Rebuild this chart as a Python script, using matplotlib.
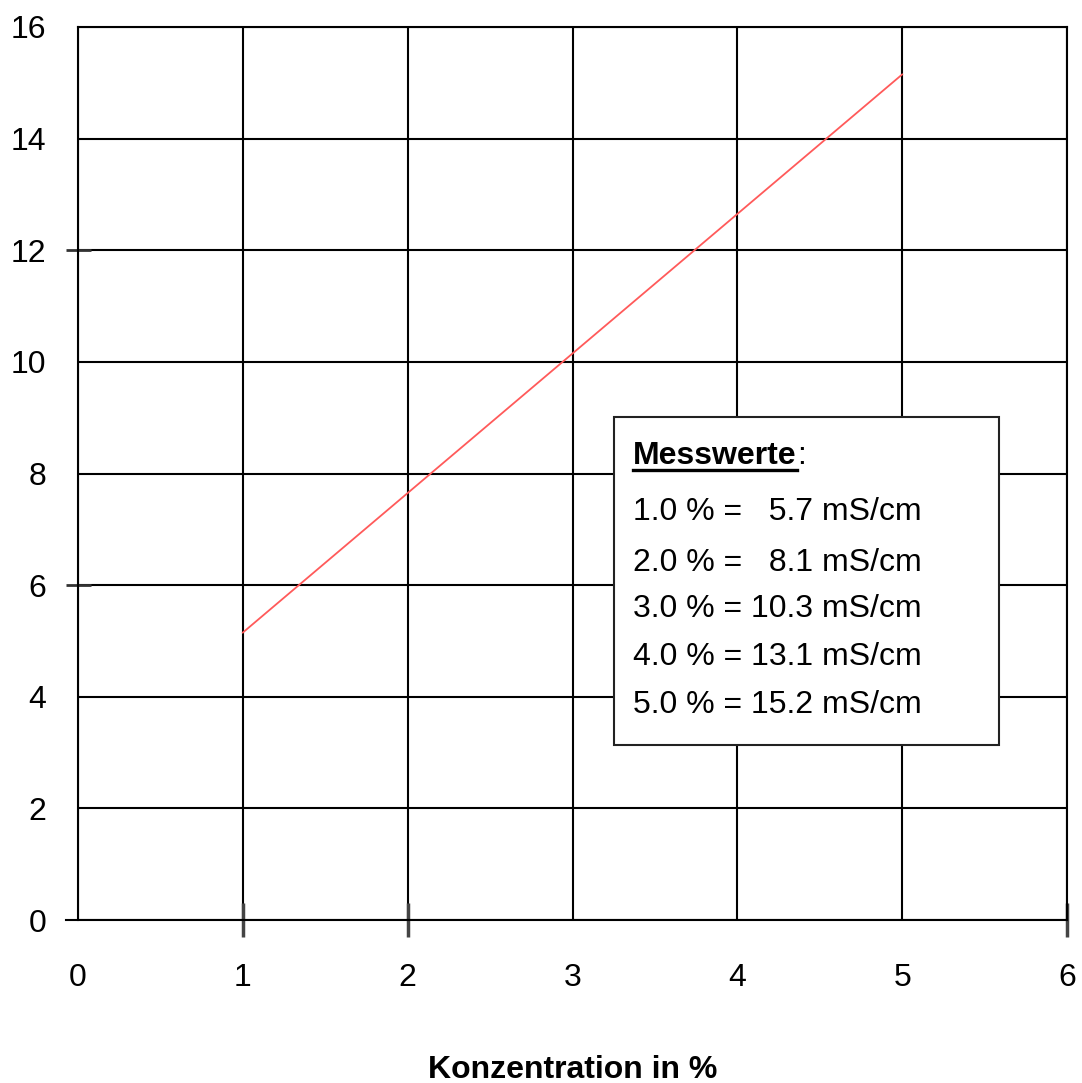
import matplotlib
matplotlib.use("Agg")
import matplotlib.pyplot as plt
from matplotlib.patches import Rectangle
from matplotlib.lines import Line2D

plt.rcParams['font.family'] = ['Liberation Sans', 'DejaVu Sans']

# data
conc = [1.0, 2.0, 3.0, 4.0, 5.0]
values = [5.7, 8.1, 10.3, 13.1, 15.2]
line_x = [1, 5]
line_y = [5.15, 15.15]
xticks = [0, 1, 2, 3, 4, 5, 6]
yticks = [0, 2, 4, 6, 8, 10, 12, 14, 16]
xlabel = "Konzentration in %"
box_title = "Messwerte"

FS = 23

fig = plt.figure(figsize=(10.82, 10.83), dpi=100)
ax = fig.add_axes([78/1082, 1-920/1083, (1067-78)/1082, (920-27)/1083])
ax.set_xlim(0, 6)
ax.set_ylim(0, 16)
ax.set_xticks(xticks)
ax.set_yticks(yticks)
ax.grid(True, color='black', linewidth=1.5)
ax.set_axisbelow(True)
for s in ax.spines.values():
    s.set_linewidth(1.5)
    s.set_color('black')
ax.spines['bottom'].set_bounds(-0.07, 6)
ax.tick_params(axis='both', which='major', length=0, labelsize=FS, colors='black')
ax.tick_params(axis='x', which='major', pad=31)
ax.tick_params(axis='y', which='major', pad=23)
# small marks present in the original
ax.xaxis.remove_overlapping_locs = False
ax.yaxis.remove_overlapping_locs = False
ax.set_xticks([1, 2, 6], minor=True)
ax.set_yticks([6, 12], minor=True)
ax.tick_params(axis='x', which='minor', direction='inout', length=25, width=2.5, color='#444444')
ax.tick_params(axis='y', which='minor', direction='inout', length=18, width=2, color='#333333')

ax.plot(line_x, line_y, color='#ff5a5a', linewidth=1.3, zorder=3)

ax.text(0.5, -0.1675, xlabel, transform=ax.transAxes, ha='center', va='center',
        fontsize=FS, fontweight='bold')

# info box
box = Rectangle((0.542, 0.196), 0.389, 0.367, transform=ax.transAxes,
                facecolor='white', edgecolor='#222222', linewidth=1.5, zorder=4)
ax.add_patch(box)
x0 = (633-78)/989
t = ax.text(x0, (920-456)/893, box_title, transform=ax.transAxes, ha='left', va='center',
            fontsize=FS, fontweight='bold', zorder=5)
ys_px = [512, 563, 609, 657, 705]
for c, v, yp in zip(conc, values, ys_px):
    vs = f"{v:.1f}"
    if len(vs) < 4:
        vs = "  " + vs
    ax.text(x0, (920-yp)/893, f"{c:.1f} % = {vs} mS/cm", transform=ax.transAxes,
            ha='left', va='center', fontsize=FS, zorder=5)

fig.canvas.draw()
bb = t.get_window_extent()
inv = fig.transFigure.inverted()
(xa, ya), (xb, yb) = inv.transform([(bb.x0, bb.y0 + 1), (bb.x1, bb.y0 + 1)])
fig.add_artist(Line2D([xa, xb], [ya, yb], color='black', linewidth=2.4, zorder=6))
cx, cy = inv.transform((bb.x1 + 1, (bb.y0 + bb.y1) / 2))
fig.text(cx, cy, ":", ha='left', va='center', fontsize=FS, zorder=6)

fig.savefig("out.png", dpi=100)
